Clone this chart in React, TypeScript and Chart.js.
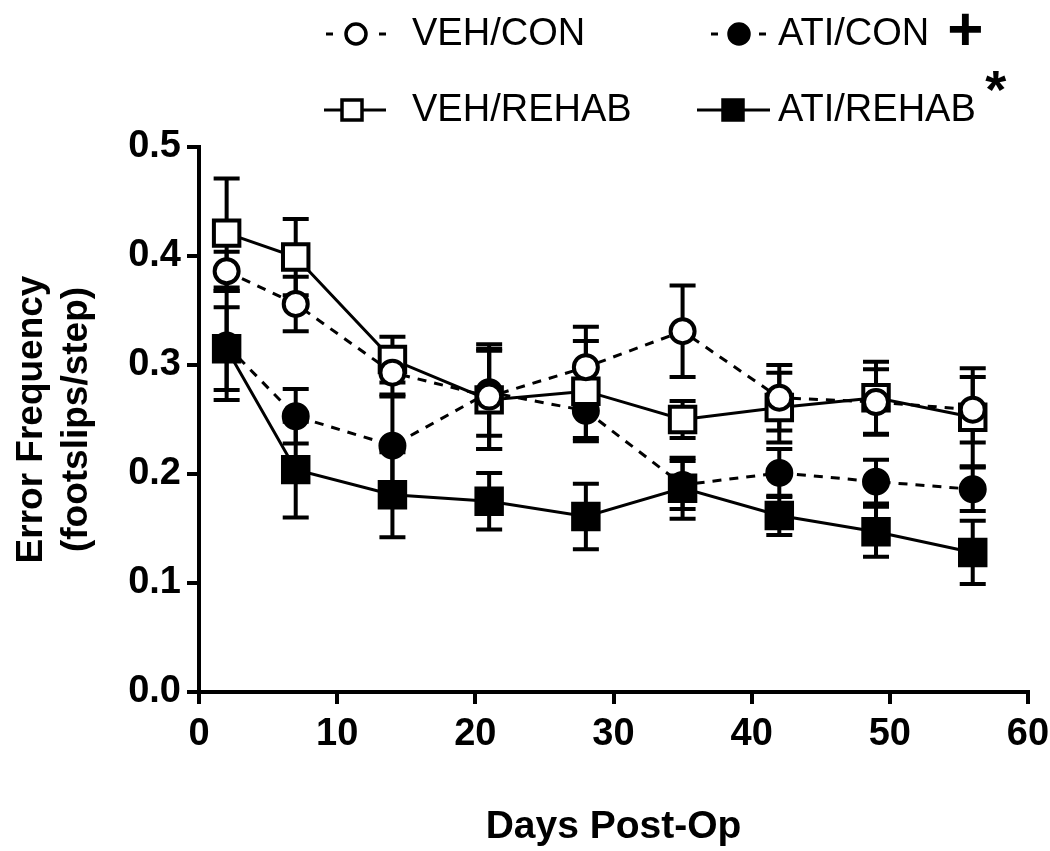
import React, { useEffect, useRef } from "react";
import { Chart, registerables } from "chart.js";

Chart.register(...registerables);

// ---- data ----
const days = [2, 7, 14, 21, 28, 35, 42, 49, 56];

const vehCon = [0.386, 0.356, 0.293, 0.271, 0.298, 0.331, 0.27, 0.266, 0.259];
const vehConErr = [0.018, 0.025, 0.022, 0.048, 0.037, 0.042, 0.03, 0.03, 0.03];

const atiCon = [0.318, 0.253, 0.226, 0.275, 0.258, 0.19, 0.201, 0.193, 0.186];
const atiConErr = [0.05, 0.025, 0.047, 0.04, 0.025, 0.022, 0.022, 0.02, 0.02];

const vehRehab = [0.421, 0.399, 0.305, 0.268, 0.276, 0.25, 0.261, 0.27, 0.252];
const vehRehabErr = [0.05, 0.035, 0.021, 0.045, 0.046, 0.017, 0.032, 0.033, 0.045];

const atiRehab = [0.315, 0.204, 0.181, 0.175, 0.161, 0.187, 0.162, 0.147, 0.128];
const atiRehabErr = [0.038, 0.044, 0.039, 0.026, 0.03, 0.028, 0.018, 0.023, 0.029];

const xTicks = [0, 10, 20, 30, 40, 50, 60];
const yTicks = [0, 0.1, 0.2, 0.3, 0.4, 0.5];

const seriesNames = ["VEH/CON", "VEH/REHAB", "ATI/CON", "ATI/REHAB"];

const FONT = "'Liberation Sans', Arial, Helvetica, sans-serif";

export default function App() {
  const ref = useRef<HTMLCanvasElement>(null);

  useEffect(() => {
    document.body.style.margin = "0";
    const canvas = ref.current;
    if (!canvas) return;

    const series = [
      { name: seriesNames[0], values: vehCon, err: vehConErr, dashed: true, filled: false, style: "circle" },
      { name: seriesNames[1], values: vehRehab, err: vehRehabErr, dashed: false, filled: false, style: "rect" },
      { name: seriesNames[2], values: atiCon, err: atiConErr, dashed: true, filled: true, style: "circle" },
      { name: seriesNames[3], values: atiRehab, err: atiRehabErr, dashed: false, filled: true, style: "rect" },
    ];

    const errorBars = {
      id: "errorBars",
      beforeDatasetsDraw(chart: any) {
        const { ctx, scales } = chart;
        const x = scales.x;
        const y = scales.y;
        ctx.save();
        ctx.strokeStyle = "#000";
        ctx.lineWidth = 4;
        ctx.setLineDash([]);
        series.forEach((s) => {
          s.values.forEach((v, i) => {
            const px = x.getPixelForValue(days[i]);
            const top = y.getPixelForValue(v + s.err[i]);
            const bot = y.getPixelForValue(v - s.err[i]);
            ctx.beginPath();
            ctx.moveTo(px, top);
            ctx.lineTo(px, bot);
            ctx.moveTo(px - 13, top);
            ctx.lineTo(px + 13, top);
            ctx.moveTo(px - 13, bot);
            ctx.lineTo(px + 13, bot);
            ctx.stroke();
          });
        });
        ctx.restore();
      },
    };

    const legendItems = [
      { s: series[0], lx: 326, rx: 386, mx: 356, y: 34, tx: 412, mark: "" },
      { s: series[2], lx: 711, rx: 766, mx: 739, y: 34, tx: 778, mark: "+" },
      { s: series[1], lx: 324, rx: 386, mx: 352, y: 110, tx: 412, mark: "" },
      { s: series[3], lx: 697, rx: 770, mx: 733, y: 110, tx: 778, mark: "*" },
    ];

    const customLegend = {
      id: "customLegend",
      afterDraw(chart: any) {
        const { ctx } = chart;
        ctx.save();
        legendItems.forEach((it) => {
          const s = it.s;
          ctx.strokeStyle = "#000";
          ctx.lineWidth = 3;
          ctx.beginPath();
          if (s.dashed) {
            ctx.moveTo(it.lx, it.y);
            ctx.lineTo(it.lx + 7, it.y);
            ctx.moveTo(it.rx - 7, it.y);
            ctx.lineTo(it.rx, it.y);
          } else {
            ctx.moveTo(it.lx, it.y);
            ctx.lineTo(it.rx, it.y);
          }
          ctx.stroke();
          ctx.lineWidth = 3.5;
          ctx.fillStyle = s.filled ? "#000" : "#fff";
          ctx.beginPath();
          if (s.style === "circle") {
            ctx.arc(it.mx, it.y, 10, 0, Math.PI * 2);
          } else {
            ctx.rect(it.mx - 10, it.y - 10, 20, 20);
          }
          ctx.fill();
          ctx.stroke();
          ctx.fillStyle = "#000";
          ctx.font = `38px ${FONT}`;
          ctx.textAlign = "left";
          ctx.textBaseline = "middle";
          ctx.fillText(s.name, it.tx, it.y + 1);
          const w = ctx.measureText(s.name).width;
          if (it.mark === "+") {
            ctx.font = `bold 62px ${FONT}`;
            ctx.textAlign = "center";
            ctx.fillText("+", it.tx + w + 36, it.y - 1);
          } else if (it.mark === "*") {
            ctx.font = `bold 54px ${FONT}`;
            ctx.textAlign = "center";
            ctx.textBaseline = "alphabetic";
            ctx.fillText("*", it.tx + w + 20, it.y - 2);
          }
        });
        ctx.restore();
      },
    };

    const datasets = series.map((s) => ({
      label: s.name,
      data: days.map((d, i) => ({ x: d, y: s.values[i] })),
      borderColor: "#000",
      borderWidth: 3,
      borderDash: s.dashed ? [9, 8] : [],
      pointStyle: s.style,
      pointRadius: s.style === "rect" ? 18 : 12,
      pointBorderWidth: 4,
      pointBorderColor: "#000",
      pointBackgroundColor: s.filled ? "#000" : "#fff",
      fill: false,
      tension: 0,
    }));

    const chart = new Chart(canvas, {
      type: "line",
      data: { datasets },
      options: {
        animation: false,
        responsive: false,
        events: [],
        layout: { padding: { top: 147, right: 22, bottom: 0, left: 0 } },
        plugins: {
          legend: { display: false },
          tooltip: { enabled: false },
          title: { display: false },
        },
        scales: {
          x: {
            type: "linear",
            min: 0,
            max: 60,
            afterFit: (scale: any) => {
              scale.height = 159;
              scale.paddingRight = 0;
              scale.paddingLeft = 0;
            },
            afterBuildTicks: (scale: any) => {
              scale.ticks = xTicks.map((v) => ({ value: v }));
            },
            ticks: {
              color: "#000",
              font: { family: FONT, size: 38, weight: "bold" },
              padding: 8,
              maxRotation: 0,
              callback: (v: any) => String(v),
            },
            grid: {
              display: true,
              drawOnChartArea: false,
              drawTicks: true,
              tickLength: 12,
              tickWidth: 4,
              tickColor: "#000",
              color: "#000",
              lineWidth: 4,
            },
            border: { display: true, color: "#000", width: 4 },
            title: {
              display: true,
              text: "Days Post-Op",
              color: "#000",
              font: { family: FONT, size: 39, weight: "bold" },
              padding: { top: 0, bottom: 0 },
            },
          },
          y: {
            type: "linear",
            min: 0,
            max: 0.5,
            afterFit: (scale: any) => {
              scale.width = 199;
            },
            afterBuildTicks: (scale: any) => {
              scale.ticks = yTicks.map((v) => ({ value: v }));
            },
            ticks: {
              color: "#000",
              font: { family: FONT, size: 38, weight: "bold" },
              padding: 6,
              callback: (v: any) => Number(v).toFixed(1),
            },
            grid: {
              display: true,
              drawOnChartArea: false,
              drawTicks: true,
              tickLength: 12,
              tickWidth: 4,
              tickColor: "#000",
              color: "#000",
              lineWidth: 4,
            },
            border: { display: true, color: "#000", width: 4 },
            title: {
              display: true,
              text: ["Error Frequency", "(footslips/step)"],
              color: "#000",
              font: { family: FONT, size: 37, weight: "bold", lineHeight: 1.2 },
              padding: { top: 10, bottom: 0 },
            },
          },
        },
      },
      plugins: [errorBars, customLegend],
    } as any);

    return () => chart.destroy();
  }, []);

  return (
    <div style={{ position: "fixed", left: 0, top: 0, width: 1050, height: 851, background: "#fff" }}>
      <canvas ref={ref} width={1050} height={851} style={{ width: 1050, height: 851 }} />
    </div>
  );
}
